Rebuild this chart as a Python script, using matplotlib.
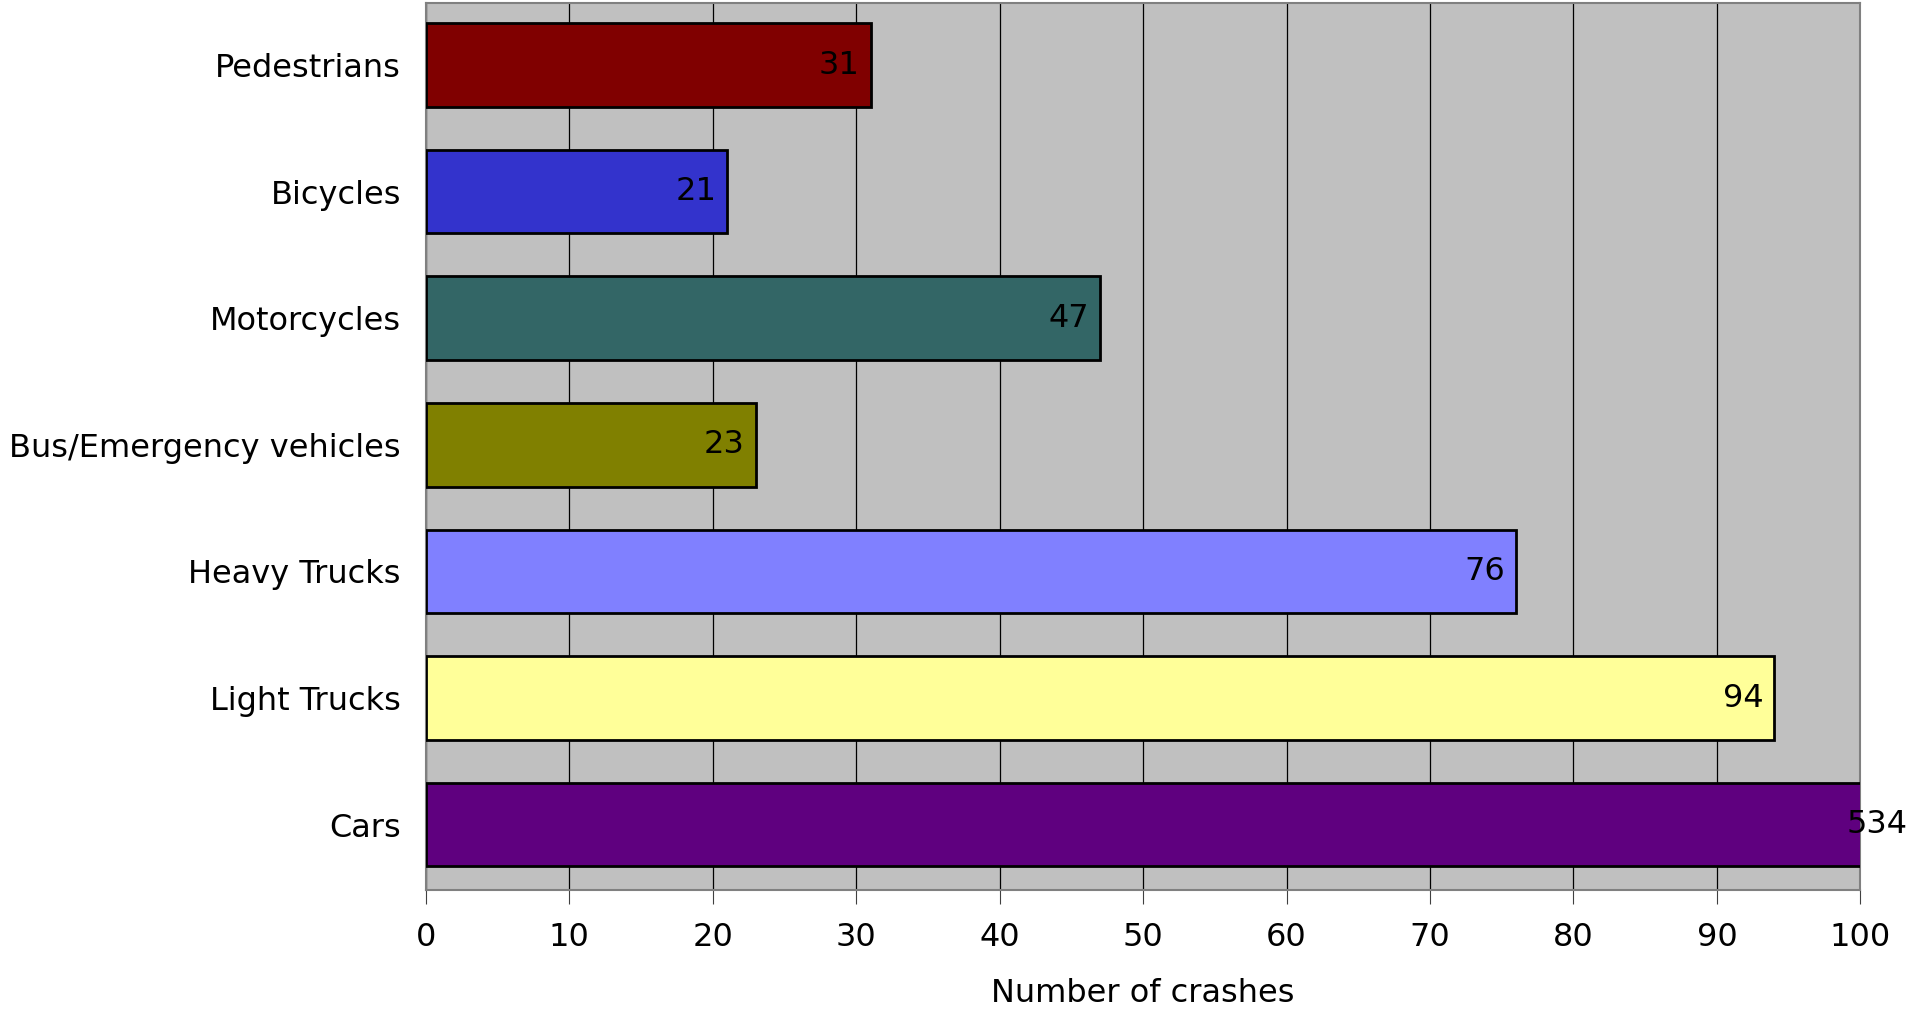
import matplotlib.pyplot as plt
import matplotlib.transforms as mtransforms

categories = ["Pedestrians", "Bicycles", "Motorcycles", "Bus/Emergency vehicles",
              "Heavy Trucks", "Light Trucks", "Cars"]
crashes = [31, 21, 47, 23, 76, 94, 534]
colors = ["#800000", "#3333CC", "#336666", "#808000", "#8080FF", "#FFFF99", "#5F007F"]
xticks = list(range(0, 101, 10))

plt.rcParams['font.family'] = ['DejaVu Sans']
fs = 23

fig = plt.figure(figsize=(19.10, 10.13), dpi=100)
ax = fig.add_axes([0.223, 0.121, 0.751, 0.876])
ax.set_facecolor("#C0C0C0")

y = list(range(len(categories)))
ax.barh(y, crashes, height=0.66, color=colors, edgecolor="black", linewidth=2, zorder=3)
ax.set_xlim(0, 100)
ax.set_ylim(len(categories) - 0.48, -0.49)
ax.set_yticks(y)
ax.set_yticklabels(categories, fontsize=fs)
ax.set_xticks(xticks)
ax.tick_params(axis='x', labelsize=fs, length=10, pad=13, direction='out', color="#404040")
ax.tick_params(axis='y', length=0, pad=18)
ax.xaxis.grid(True, color="black", linewidth=0.9, zorder=1)
ax.set_xlabel("Number of crashes", fontsize=fs, labelpad=18)
for side in ["top", "right", "bottom", "left"]:
    ax.spines[side].set_color("#808080")
    ax.spines[side].set_linewidth(1.5)

# values written at the end of each bar
xmax = ax.get_xlim()[1]
for yi, v in zip(y, crashes):
    if v <= xmax:
        off = mtransforms.offset_copy(ax.transData, fig=fig, x=-11, y=0, units='dots')
        ax.text(v, yi, str(v), ha='right', va='center', fontsize=fs, transform=off, zorder=4)
    else:
        off = mtransforms.offset_copy(ax.transData, fig=fig, x=17, y=0, units='dots')
        ax.text(xmax, yi, str(v), ha='center', va='center', fontsize=fs, transform=off,
                zorder=4, clip_on=False)

fig.savefig("out.png", dpi=100)
